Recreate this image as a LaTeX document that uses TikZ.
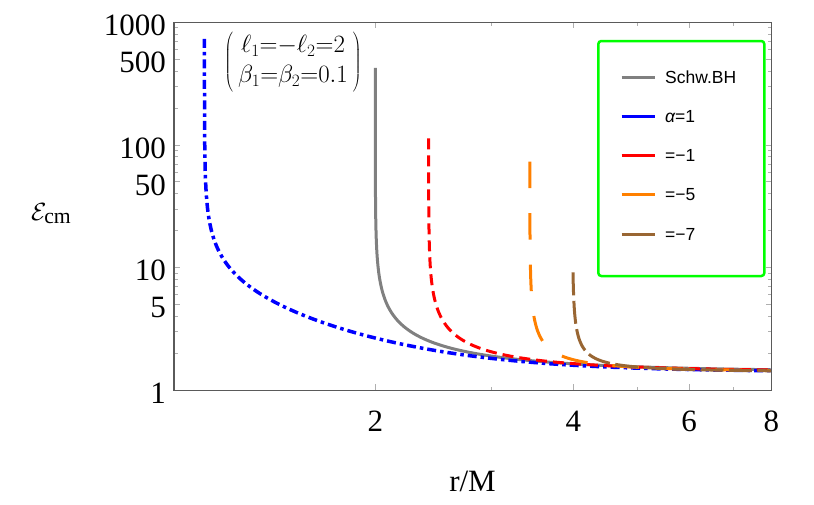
\documentclass[tikz,border=0pt]{standalone}
\usepackage{fontspec}
\setmainfont{Liberation Serif}
\newfontfamily\legfont{Liberation Sans}
\definecolor{cgray}{RGB}{128,128,128}
\definecolor{cblue}{RGB}{0,0,255}
\definecolor{cred}{RGB}{255,0,0}
\definecolor{corange}{RGB}{255,128,0}
\definecolor{cbrown}{RGB}{153,102,51}
\definecolor{cgreen}{RGB}{0,255,0}
\definecolor{cframe}{RGB}{90,90,90}
\definecolor{ctick}{RGB}{175,175,175}
\begin{document}
\begin{tikzpicture}[x=1pt,y=-1pt,
  declare function={
    rr(\t,\h)=\h+pow(10,\t);
    px(\t,\h)=375.3+658*log10(rr(\t,\h)/2);
    py(\t,\h,\a,\p)=390.3-61.35*(log10(2*pow(rr(\t,\h),\p)*pow(10,\t)+\a)-\p*log10(rr(\t,\h))-\t);
  },
  tickmark/.style={draw=ctick, line width=0.8pt},
  framebox/.style={draw=cframe, line width=1.5pt},
  ticklabel/.style={inner sep=0pt, font=\fontsize{31}{31}\selectfont},
  graycurve/.style={draw=cgray, line width=3pt},
  bluecurve/.style={draw=cblue, line width=3.5pt, dash pattern=on 9pt off 4pt on 3.5pt off 4pt},
  redcurve/.style={draw=cred, line width=3pt, dash pattern=on 11pt off 6pt},
  orangecurve/.style={draw=corange, line width=3pt, dash pattern=on 26.5pt off 25pt},
  browncurve/.style={draw=cbrown, line width=3pt, dash pattern=on 23pt off 5.5pt},
  legline/.style={line width=3.3pt},
  legtext/.style={anchor=west, inner sep=0pt, font=\legfont\fontsize{17.5}{17.5}\selectfont},
]
\useasboundingbox (0,0) rectangle (814,504);

% ticks on y axis
\foreach \v in {1,5,10,50,100,500,1000}{
  \pgfmathsetmacro\yy{390.3-122.7*log10(\v)}
  \draw[tickmark] (174,\yy) -- ++(6,0);
  \draw[tickmark] (771.7,\yy) -- ++(-6,0);
  \node[ticklabel, anchor=east] (yl\v) at (166,\yy+3) {\v};
}
\foreach \k in {1,10,100}{
  \foreach \m in {2,3,4,6,7,8,9}{
    \pgfmathsetmacro\yy{390.3-122.7*log10(\m*\k)}
    \draw[tickmark] (174,\yy) -- ++(3.5,0);
    \draw[tickmark] (771.7,\yy) -- ++(-3.5,0);
  }
}
% ticks on x axis
\foreach \v in {2,4,6,8}{
  \pgfmathsetmacro\xx{375.3+658*log10(\v/2)}
  \draw[tickmark] (\xx,390.3) -- ++(0,-6);
  \draw[tickmark] (\xx,22.3) -- ++(0,6);
  \node[ticklabel] (xl\v) at (\xx,421) {\v};
}
\foreach \v in {3,5,7}{
  \pgfmathsetmacro\xx{375.3+658*log10(\v/2)}
  \draw[tickmark] (\xx,390.3) -- ++(0,-3.5);
  \draw[tickmark] (\xx,22.3) -- ++(0,3.5);
}

% curves
\draw[graycurve] plot[domain=-4.957:0.778, samples=250, variable=\t] ({px(\t,2)},{py(\t,2,2.8,0.5)});
\draw[bluecurve] plot[domain=-4.675:0.839, samples=250, variable=\t] ({px(\t,1.1)},{py(\t,1.1,13,1.5)});
\draw[redcurve] plot[domain=-3.937:0.747, samples=250, variable=\t] ({px(\t,2.41)},{py(\t,2.41,2.3,0.5)});
\draw[orangecurve] plot[domain=-3.88:0.659, samples=250, variable=\t] ({px(\t,3.435)},{py(\t,3.435,1.3,0.5)});
\draw[browncurve] plot[domain=-2.259:0.603, samples=250, variable=\t] ({px(\t,3.99)},{py(\t,3.99,0.9,0.5)});

% frame
\draw[framebox] (174,22.3) rectangle (771.7,390.3);

% axis labels
\node[inner sep=0pt, anchor=base, font=\fontsize{31}{31}\selectfont] (xlab) at (472.5,491.7) {r/M};
\node[inner sep=0pt, anchor=base west, font=\fontsize{31}{31}\selectfont] (ylab) at (31,220) {$\mathcal{E}_{\mathrm{cm}}$};

% annotation
\node[inner sep=0pt, font=\fontsize{25}{30}\selectfont] (ann) at (293,61.7)
  {$\left(\begin{array}{c}\ell_1{=}{-}\ell_2{=}2\\ \beta_1{=}\beta_2{=}0.1\end{array}\right)$};

% legend
\draw[draw=cgreen, line width=2.5pt, rounded corners=3pt] (598.3,41) rectangle (764.3,276);
\node[legtext] (lg1) at (665,76.8) {Schw.BH};
\node[legtext] (lg2) at (665,116.2) {\itshape α\upshape=1};
\node[legtext] (lg3) at (665,155.2) {=−1};
\node[legtext] (lg4) at (665,194.2) {=−5};
\node[legtext] (lg5) at (665,234.2) {=−7};
\draw[legline, cgray] (621.7,77.3) -- (655,77.3);
\draw[legline, cblue] (621.7,116.7) -- (655,116.7);
\draw[legline, cred] (621.7,155.7) -- (655,155.7);
\draw[legline, corange] (621.7,194.7) -- (655,194.7);
\draw[legline, cbrown] (621.7,234.7) -- (655,234.7);
\end{tikzpicture}
\end{document}
